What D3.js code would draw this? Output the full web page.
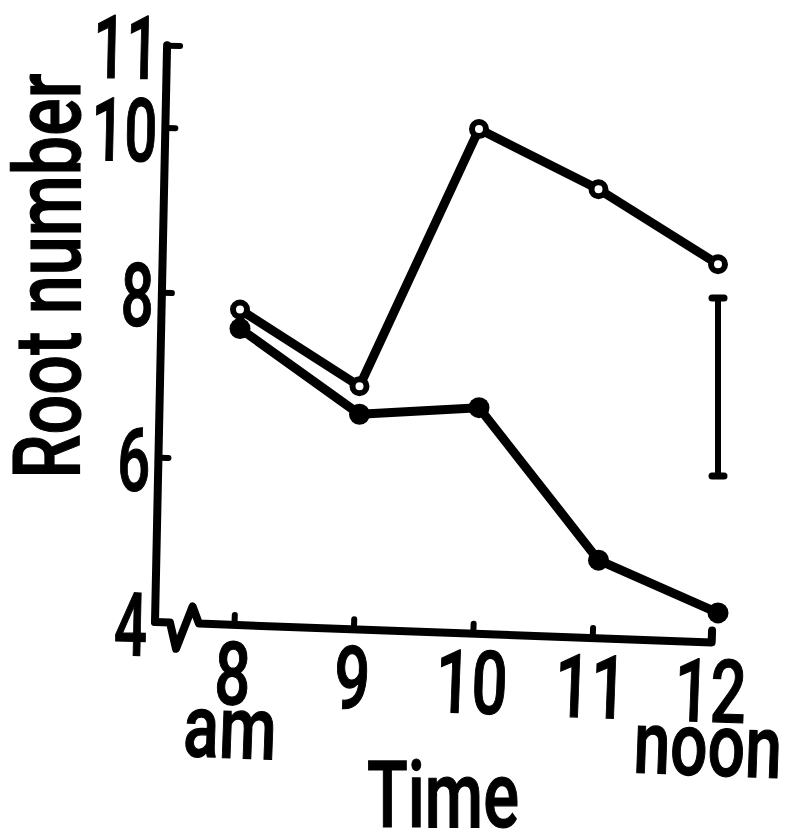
<!DOCTYPE html>
<html>
<head>
<meta charset="utf-8">
<script src="https://cdn.jsdelivr.net/npm/d3@7"></script>
<style>
  body { margin: 0; background: #fff; }
  text { font-family: Roboto, "DejaVu Sans", sans-serif; font-weight: 500; fill: #000; stroke: #000; stroke-width: 1.2px; }
</style>
</head>
<body>
<svg width="785" height="837"></svg>
<script>
// values
var hours = [8, 9, 10, 11, 12];
var hourLabels = ["8", "9", "10", "11", "12"];
var openRoots = [7.79, 6.86, 9.98, 9.25, 8.34];
var filledRoots = [7.56, 6.52, 6.6, 4.75, 4.11];
var yTicks = [4, 6, 8, 10, 11];
var errorHour = 12;
var errorRange = [5.77, 7.93];

var svg = d3.select("svg");

var x = d3.scaleLinear().domain([8, 12]).range([234, 712]);
var y = d3.scaleLinear().domain([4, 11]).range([622, 45]);
var corner = 155;

// y axis (hand drawn, leans a little)
var yAxis = svg.append("g")
  .attr("transform", "rotate(1.2," + corner + ",622) translate(" + corner + ",0)")
  .call(d3.axisLeft(y)
    .tickValues(yTicks)
    .tickSize(-10)
    .tickSizeOuter(0)
    .tickPadding(12)
    .tickFormat(d3.format("d")));

yAxis.select(".domain").remove();
yAxis.append("line")
  .attr("x1", 0).attr("x2", 0)
  .attr("y1", y(4)).attr("y2", y(11))
  .attr("stroke", "#000")
  .attr("stroke-width", 8)
  .attr("stroke-linecap", "round");
yAxis.selectAll(".tick line")
  .attr("stroke-width", 6)
  .attr("stroke-linecap", "round")
  .attr("x2", function(d) { return d == 11 ? 13 : (d == 4 ? 0 : 10); });
yAxis.selectAll(".tick text")
  .attr("font-size", 88)
  .attr("dy", "0.38em")
  .attr("font-family", null)
  .attr("transform", "scale(0.66,1)");

// x axis, also leaning
var xAxis = svg.append("g")
  .attr("transform", "rotate(2.1," + corner + ",622) translate(0,622)")
  .call(d3.axisBottom(x)
    .tickValues(hours)
    .tickSize(-10)
    .tickSizeOuter(0)
    .tickPadding(17)
    .tickFormat(function(d, i) { return hourLabels[i]; }));

xAxis.select(".domain").remove();
xAxis.selectAll(".tick line")
  .attr("stroke-width", 6)
  .attr("stroke-linecap", "round");
xAxis.selectAll(".tick text")
  .attr("font-size", 88)
  .attr("font-family", null)
  .attr("transform", "scale(0.72,1)");

// axis line with the break mark
var axisPath = d3.path();
axisPath.moveTo(corner, 0);
axisPath.lineTo(corner + 15, 0);
axisPath.lineTo(corner + 22, 26);
axisPath.lineTo(corner + 37, -17);
axisPath.lineTo(corner + 44, 0);
axisPath.lineTo(x(12), 0);
axisPath.lineTo(x(12), -12);
xAxis.append("path")
  .attr("d", axisPath.toString())
  .attr("fill", "none")
  .attr("stroke", "#000")
  .attr("stroke-width", 8)
  .attr("stroke-linejoin", "round")
  .attr("stroke-linecap", "round");

xAxis.append("text")
  .attr("transform", "translate(" + x(8) + ",133) scale(0.75,1)")
  .attr("text-anchor", "middle")
  .attr("font-size", 88)
  .text("am");

xAxis.append("text")
  .attr("transform", "translate(" + x(12) + ",133) scale(0.75,1)")
  .attr("text-anchor", "middle")
  .attr("font-size", 88)
  .text("noon");

svg.append("text")
  .attr("transform", "translate(443,827) scale(0.72,1)")
  .attr("text-anchor", "middle")
  .attr("font-size", 93)
  .text("Time");

svg.append("text")
  .attr("transform", "translate(80,276) rotate(-90)")
  .attr("text-anchor", "middle")
  .attr("font-size", 93)
  .attr("textLength", 405)
  .attr("lengthAdjust", "spacingAndGlyphs")
  .text("Root number");

// data
var plot = svg.append("g").attr("transform", "translate(6,0)");

var line = function(vals) {
  return d3.line()
    .x(function(d, i) { return x(hours[i]); })
    .y(function(d) { return y(d); })(vals);
};

plot.append("path")
  .attr("d", line(filledRoots))
  .attr("fill", "none")
  .attr("stroke", "#000")
  .attr("stroke-width", 9)
  .attr("stroke-linejoin", "round");

plot.selectAll(".filled")
  .data(filledRoots)
  .enter()
  .append("circle")
  .attr("class", "filled")
  .attr("cx", function(d, i) { return x(hours[i]); })
  .attr("cy", function(d) { return y(d); })
  .attr("r", 10.5)
  .attr("fill", "#000");

plot.append("path")
  .attr("d", line(openRoots))
  .attr("fill", "none")
  .attr("stroke", "#000")
  .attr("stroke-width", 9)
  .attr("stroke-linejoin", "round");

plot.selectAll(".open")
  .data(openRoots)
  .enter()
  .append("circle")
  .attr("class", "open")
  .attr("cx", function(d, i) { return x(hours[i]); })
  .attr("cy", function(d) { return y(d); })
  .attr("r", 7)
  .attr("fill", "#fff")
  .attr("stroke", "#000")
  .attr("stroke-width", 6);

// error bar
var eb = plot.append("g");
eb.append("line")
  .attr("x1", x(errorHour)).attr("x2", x(errorHour))
  .attr("y1", y(errorRange[0])).attr("y2", y(errorRange[1]))
  .attr("stroke", "#000").attr("stroke-width", 6);
eb.selectAll(".cap")
  .data(errorRange)
  .enter()
  .append("line")
  .attr("class", "cap")
  .attr("x1", x(errorHour) - 6).attr("x2", x(errorHour) + 6)
  .attr("y1", function(d) { return y(d); })
  .attr("y2", function(d) { return y(d); })
  .attr("stroke", "#000")
  .attr("stroke-width", 7)
  .attr("stroke-linecap", "round");
</script>
</body>
</html>
